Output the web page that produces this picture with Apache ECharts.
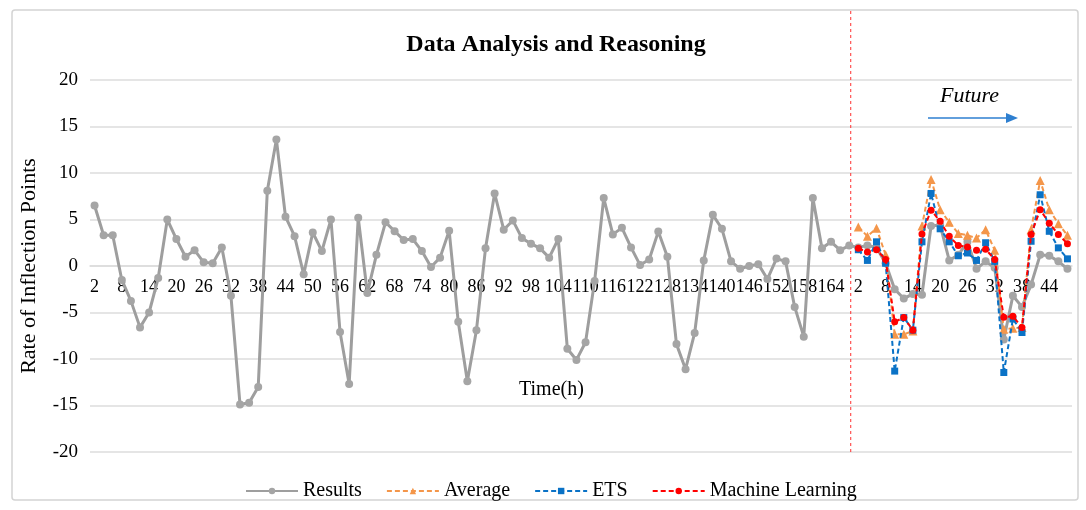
<!DOCTYPE html>
<html>
<head>
<meta charset="utf-8">
<script src="https://cdn.jsdelivr.net/npm/echarts@6/dist/echarts.min.js"></script>
<style>
  html, body { margin: 0; padding: 0; background: #fff; }
  #chart { width: 1086px; height: 510px; }
</style>
</head>
<body>
<div id="chart"></div>
<script>
// ---- Data ----
var pastCategories = ['2','4','6','8','10','12','14','16','18','20','22','24','26','28','30','32','34','36','38','40',
  '42','44','46','48','50','52','54','56','58','60','62','64','66','68','70','72','74','76','78','80',
  '82','84','86','88','90','92','94','96','98','100','102','104','106','108','110','112','114','116','118','120',
  '122','124','126','128','130','132','134','136','138','140','142','144','146','148','150','152','154','156','158','160',
  '162','164','166','168'];
var futureCategories = ['2','4','6','8','10','12','14','16','18','20','22','24','26','28','30','32','34','36','38','40','42','44','46','48'];

var pastResults = [6.5, 3.3, 3.3, -1.5, -3.75, -6.6, -5.0, -1.3, 5.0, 2.9,
  1.0, 1.7, 0.4, 0.3, 2.0, -3.2, -14.9, -14.7, -13.0, 8.1,
  13.6, 5.3, 3.2, -0.9, 3.6, 1.6, 5.0, -7.1, -12.7, 5.2,
  -2.9, 1.2, 4.7, 3.75, 2.8, 2.9, 1.6, -0.1, 0.9, 3.8,
  -6.0, -12.4, -6.9, 1.9, 7.8, 3.9, 4.9, 3.0, 2.4, 1.9,
  0.9, 2.9, -8.9, -10.1, -8.2, -1.6, 7.3, 3.4, 4.1, 2.0,
  0.1, 0.7, 3.7, 1.0, -8.4, -11.1, -7.2, 0.6, 5.5, 4.0,
  0.5, -0.3, 0.0, 0.2, -1.4, 0.8, 0.5, -4.4, -7.6, 7.3,
  1.9, 2.6, 1.7, 2.2];
var futureResults = [2.0, 2.2, 2.0, 0.3, -2.5, -3.5, -3.0, -3.1, 4.3, 4.4,
  0.6, 1.2, 2.6, -0.3, 0.5, -0.2, -7.9, -3.2, -4.4, -2.0,
  1.2, 1.1, 0.5, -0.3];
var futureAverage = [4.2, 3.2, 4.05, 1.2, -7.35, -7.35, -7.0, 4.3, 9.3, 6.05,
  4.7, 3.5, 3.3, 3.0, 3.9, 1.7, -6.8, -6.7, -6.6, 3.9,
  9.2, 6.05, 4.55, 3.3];
var futureETS = [1.75, 0.6, 2.6, 0.3, -11.3, -5.55, -6.9, 2.6, 7.8, 4.0,
  2.6, 1.1, 1.4, 0.6, 2.5, 0.5, -11.45, -5.7, -7.15, 2.66,
  7.66, 3.73, 1.95, 0.77];
var futureML = [1.9, 1.5, 1.75, 0.7, -6.0, -5.55, -6.9, 3.45, 6.0, 4.8,
  3.2, 2.2, 2.05, 1.7, 1.8, 0.7, -5.5, -5.4, -6.6, 3.4,
  6.05, 4.6, 3.4, 2.4];
var yTicks = { min: -20, max: 20, interval: 5 };

// ---- Build ----
var categories = pastCategories.concat(futureCategories);
var pad = pastCategories.map(function () { return null; });
var results = pastResults.concat(futureResults);
var average = pad.concat(futureAverage);
var ets = pad.concat(futureETS);
var ml = pad.concat(futureML);

var FONT = '"Liberation Serif", "Times New Roman", serif';
var chart = echarts.init(document.getElementById('chart'), null, { renderer: 'canvas' });

var GRID = { left: 90, right: 14, top: 80, bottom: 58 };

var option = {
  animation: false,
  backgroundColor: '#ffffff',
  textStyle: { fontFamily: FONT },
  title: {
    text: 'Data Analysis and Reasoning',
    left: 551, top: 28, textAlign: 'center',
    textStyle: { fontFamily: FONT, fontSize: 24, fontWeight: 'bold', color: '#000' }
  },
  legend: {
    left: 240, top: 476,
    itemWidth: 52, itemHeight: 8, itemGap: 24,
    textStyle: { fontFamily: FONT, fontSize: 20, color: '#000' },
    data: ['Results', 'Average', 'ETS', 'Machine Learning']
  },
  grid: { left: GRID.left, right: GRID.right, top: GRID.top, bottom: GRID.bottom, containLabel: false },
  xAxis: {
    type: 'category',
    data: categories,
    boundaryGap: true,
    offset: 0,
    axisLine: { show: true, onZero: false, lineStyle: { color: '#DCDCDC', width: 1.5 } },
    axisTick: { show: false },
    axisLabel: { interval: 2, margin: 12, fontFamily: FONT, fontSize: 18, color: '#000' },
    splitLine: { show: false }
  },
  yAxis: {
    type: 'value',
    min: yTicks.min, max: yTicks.max, interval: yTicks.interval,
    name: 'Rate of Inflection Points',
    nameLocation: 'middle', nameGap: 50,
    nameTextStyle: { fontFamily: FONT, fontSize: 22, color: '#000' },
    axisLine: { show: false },
    axisTick: { show: false },
    axisLabel: { margin: 12, fontFamily: FONT, fontSize: 19, color: '#000' },
    splitLine: { show: true, lineStyle: { color: '#DCDCDC', width: 1.5 } }
  },
  series: [
    {
      name: 'Results', type: 'line', data: results,
      symbol: 'circle', symbolSize: 8, showAllSymbol: true,
      lineStyle: { color: '#9E9E9E', width: 3 },
      itemStyle: { color: '#A5A5A5' },
      z: 2
    },
    {
      name: 'Average', type: 'line', data: average,
      symbol: 'triangle', symbolSize: 9, showAllSymbol: true,
      lineStyle: { color: '#F4964A', width: 2, type: [5, 3] },
      itemStyle: { color: '#F4964A' },
      z: 3
    },
    {
      name: 'ETS', type: 'line', data: ets,
      symbol: 'rect', symbolSize: 7, showAllSymbol: true,
      lineStyle: { color: '#0A72C6', width: 2, type: [5, 3] },
      itemStyle: { color: '#0A72C6' },
      z: 4
    },
    {
      name: 'Machine Learning', type: 'line', data: ml,
      symbol: 'circle', symbolSize: 7, showAllSymbol: true,
      lineStyle: { color: '#FF0000', width: 2, type: [5, 3] },
      itemStyle: { color: '#FF0000' },
      z: 5
    }
  ]
};
chart.setOption(option);

// Move the category axis (labels) up to the y = 0 line, using the library's scale
var zeroY = chart.convertToPixel({ yAxisIndex: 0 }, 0);
var bottomY = 510 - GRID.bottom;
// Divider between observed and forecast, placed through the library's scale
var splitX = chart.convertToPixel({ xAxisIndex: 0 }, pastCategories.length - 1) + 1.5;
chart.setOption({
  xAxis: { offset: zeroY - bottomY },
  graphic: [
    {
      type: 'rect', silent: true, z: -1,
      shape: { x: 12, y: 10, width: 1066, height: 490, r: 3 },
      style: { fill: 'none', stroke: '#D4D4D4', lineWidth: 1.5 }
    },
    {
      type: 'line', silent: true,
      shape: { x1: splitX, y1: 11, x2: splitX, y2: 452 },
      style: { stroke: '#FF3030', lineWidth: 1, lineDash: [3, 3] }
    },
    {
      type: 'text', left: 519, top: 380,
      style: { text: 'Time(h)', font: '20px ' + FONT, fill: '#000' }
    },
    {
      type: 'text', left: 940, top: 85,
      style: { text: 'Future', font: 'italic 22px ' + FONT, fill: '#000' }
    },
    {
      type: 'line', silent: true,
      shape: { x1: 928, y1: 118, x2: 1008, y2: 118 },
      style: { stroke: '#2E7FD0', lineWidth: 1.5 }
    },
    {
      type: 'polygon', silent: true,
      shape: { points: [[1006, 113], [1018, 118], [1006, 123]] },
      style: { fill: '#2E7FD0' }
    }
  ]
});
</script>
</body>
</html>
